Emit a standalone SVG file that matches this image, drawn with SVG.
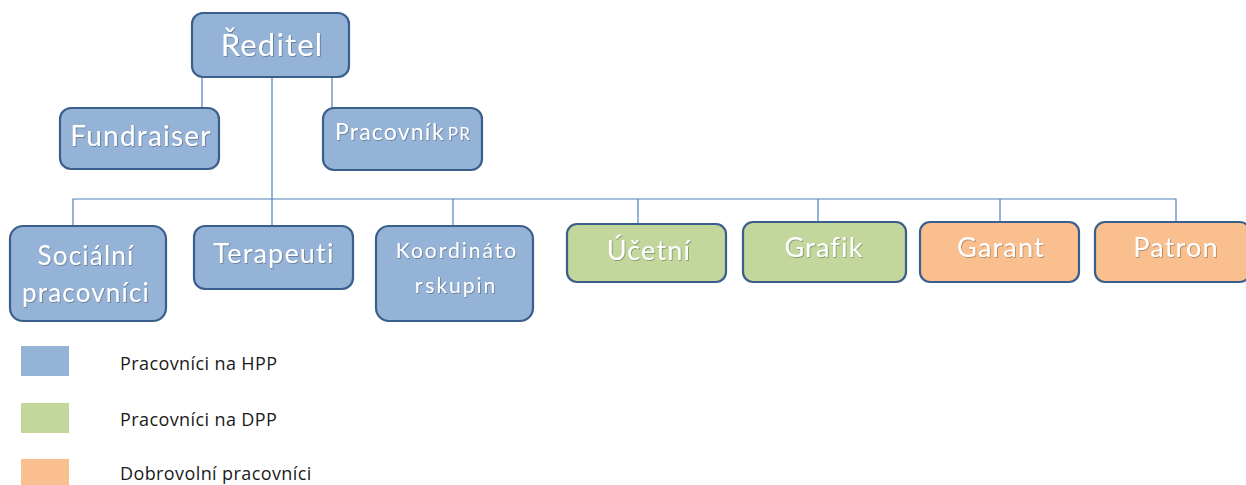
<svg xmlns="http://www.w3.org/2000/svg" width="1246" height="485" viewBox="0 0 1246 485">
<style>
.box{stroke:#3b5f8c;stroke-width:2.2}
.hpp{fill:#95b3d7}
.dpp{fill:#c3d69b}
.dob{fill:#fabf8f}
.t{font-family:Lato,"Open Sans",sans-serif;fill:#ffffff;text-anchor:middle;filter:url(#sh);letter-spacing:1.2px}
.conn{stroke:#4f81bd;stroke-width:1.2;fill:none}
.lg{font-family:"Open Sans",Lato,sans-serif;font-size:18px;fill:#1a1a1a;letter-spacing:0.4px}
</style>
<defs>
<filter id="sh" x="-10%" y="-20%" width="120%" height="150%">
<feDropShadow dx="0.8" dy="0.8" stdDeviation="0.6" flood-color="#000" flood-opacity="0.35"/>
</filter>
</defs>
<g id="connectors">
<path class="conn" d="M272 77 V226"/>
<path class="conn" d="M202 77 V108"/>
<path class="conn" d="M332 77 V108"/>
<path class="conn" d="M73 226 V199 H1176 V222"/>
<path class="conn" d="M453 199 V226"/>
<path class="conn" d="M638 199 V224"/>
<path class="conn" d="M818 199 V222"/>
<path class="conn" d="M1000 199 V222"/>
</g>
<g id="reditel"><rect class="box hpp" x="192" y="13" width="157" height="64" rx="11"/><text class="t" x="272" y="56" font-size="31">Ředitel</text></g>
<g id="fundraiser"><rect class="box hpp" x="60" y="108" width="159" height="61" rx="11"/><text class="t" x="141" y="146" font-size="28">Fundraiser</text></g>
<g id="pracovnik-pr"><rect class="box hpp" x="323" y="108" width="159" height="62" rx="11"/><text class="t" x="403" y="140" font-size="23">Pracovník<tspan font-size="17" dx="3">PR</tspan></text></g>
<g id="socialni"><rect class="box hpp" x="10" y="226" width="156" height="95" rx="13"/><text class="t" x="86" y="265" font-size="26">Sociální</text><text class="t" x="86" y="302" font-size="26">pracovníci</text></g>
<g id="terapeuti"><rect class="box hpp" x="194" y="226" width="159" height="63" rx="11"/><text class="t" x="274" y="263" font-size="27">Terapeuti</text></g>
<g id="koordinator"><rect class="box hpp" x="376" y="226" width="157" height="95" rx="13"/><text class="t" x="457" y="258" font-size="21" style="letter-spacing:2px">Koordináto</text><text class="t" x="456" y="293" font-size="21" style="letter-spacing:2px">r<tspan dx="1">skupin</tspan></text></g>
<g id="ucetni"><rect class="box dpp" x="567" y="224" width="159" height="58" rx="10"/><text class="t" x="649" y="260" font-size="27">Účetní</text></g>
<g id="grafik"><rect class="box dpp" x="743" y="222" width="163" height="60" rx="10"/><text class="t" x="824" y="257" font-size="27">Grafik</text></g>
<g id="garant"><rect class="box dob" x="920" y="222" width="159" height="60" rx="10"/><text class="t" x="1001" y="257" font-size="27">Garant</text></g>
<g id="patron"><rect class="box dob" x="1095" y="222" width="155" height="60" rx="10"/><text class="t" x="1176" y="257" font-size="27">Patron</text></g>
<g id="legend">
<rect x="21" y="346" width="48" height="30" fill="#95b3d7"/>
<rect x="21" y="403" width="48" height="30" fill="#c3d69b"/>
<rect x="21" y="459" width="48" height="30" fill="#fabf8f"/>
<text class="lg" x="120" y="370">Pracovníci na HPP</text>
<text class="lg" x="120" y="426">Pracovníci na DPP</text>
<text class="lg" x="120" y="480">Dobrovolní pracovníci</text>
</g>
</svg>
